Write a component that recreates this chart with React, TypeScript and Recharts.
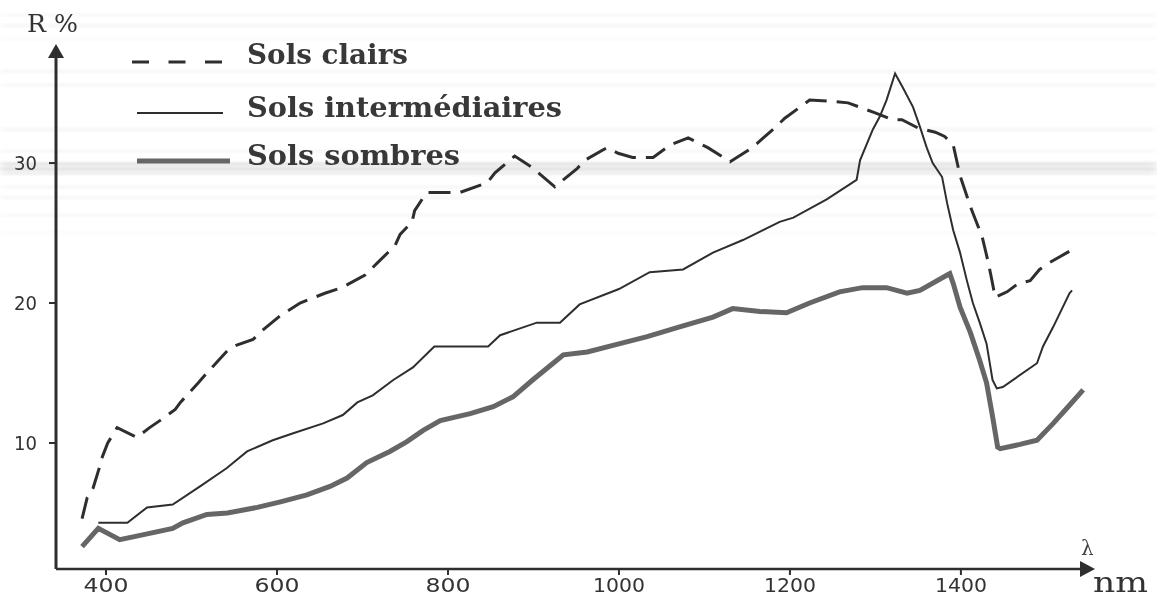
import React from 'react';
import { LineChart, Line, XAxis, YAxis } from 'recharts';

// Réflectance spectrale (R %) en fonction de la longueur d'onde (nm)
const clairsNm = [372, 378, 385, 393, 395, 402, 413, 436, 451, 463, 481, 487, 508, 518, 542, 553, 572, 584, 604, 627, 656, 676, 703, 718, 738, 744, 758, 761, 775, 800, 814, 846, 855, 878, 898, 925, 951, 960, 986, 999, 1016, 1040, 1060, 1081, 1104, 1130, 1156, 1182, 1194, 1223, 1250, 1268, 1299, 1320, 1331, 1350, 1370, 1381, 1391, 1399, 1411, 1425, 1432, 1437, 1440, 1454, 1467, 1481, 1492, 1504, 1530];
const clairsR = [4.6, 6.1, 6.8, 8.4, 8.9, 10.0, 11.1, 10.4, 11.1, 11.6, 12.4, 12.9, 14.3, 15.0, 16.6, 17.0, 17.4, 18.1, 19.1, 20.0, 20.7, 21.1, 22.0, 22.9, 24.1, 24.9, 25.8, 26.6, 27.9, 27.9, 27.9, 28.6, 29.3, 30.5, 29.7, 28.3, 29.6, 30.2, 31.1, 30.7, 30.4, 30.4, 31.3, 31.8, 31.1, 30.1, 31.1, 32.5, 33.2, 34.5, 34.4, 34.3, 33.6, 33.1, 33.1, 32.5, 32.2, 31.9, 31.3, 29.1, 26.9, 24.7, 22.9, 21.4, 20.4, 20.8, 21.4, 21.6, 22.4, 22.9, 23.8];

const interNm = [391, 425, 448, 478, 510, 541, 565, 595, 619, 654, 677, 694, 712, 736, 759, 784, 847, 861, 904, 931, 954, 1000, 1036, 1075, 1110, 1145, 1165, 1188, 1204, 1243, 1278, 1282, 1297, 1305, 1313, 1323, 1332, 1344, 1352, 1360, 1367, 1378, 1384, 1391, 1399, 1407, 1414, 1422, 1430, 1437, 1442, 1449, 1489, 1496, 1508, 1527, 1530];
const interR = [4.3, 4.3, 5.4, 5.6, 6.9, 8.2, 9.4, 10.2, 10.7, 11.4, 12.0, 12.9, 13.4, 14.5, 15.4, 16.9, 16.9, 17.7, 18.6, 18.6, 19.9, 21.0, 22.2, 22.4, 23.6, 24.5, 25.1, 25.8, 26.1, 27.4, 28.8, 30.2, 32.4, 33.3, 34.5, 36.4, 35.4, 34.0, 32.6, 31.1, 30.0, 29.0, 27.1, 25.2, 23.6, 21.6, 20.0, 18.6, 17.1, 14.5, 13.9, 14.0, 15.7, 16.9, 18.3, 20.7, 20.9];

const sombresNm = [372, 391, 416, 440, 478, 490, 518, 542, 577, 604, 635, 662, 682, 705, 732, 752, 771, 791, 826, 853, 876, 899, 923, 935, 963, 1001, 1033, 1071, 1110, 1133, 1165, 1196, 1223, 1258, 1285, 1313, 1337, 1352, 1384, 1387, 1391, 1399, 1411, 1422, 1430, 1437, 1443, 1446, 1469, 1489, 1508, 1527, 1543];
const sombresR = [2.6, 3.9, 3.1, 3.4, 3.9, 4.3, 4.9, 5.0, 5.4, 5.8, 6.3, 6.9, 7.5, 8.6, 9.4, 10.1, 10.9, 11.6, 12.1, 12.6, 13.3, 14.5, 15.7, 16.3, 16.5, 17.1, 17.6, 18.3, 19.0, 19.6, 19.4, 19.3, 20.0, 20.8, 21.1, 21.1, 20.7, 20.9, 22.0, 22.1, 21.4, 19.7, 17.9, 15.9, 14.3, 11.9, 9.7, 9.6, 9.9, 10.2, 11.4, 12.7, 13.8];

const xTicks = [400, 600, 800, 1000, 1200, 1400];
const yTicks = [10, 20, 30];
const legendLabels = ['Sols clairs', 'Sols intermédiaires', 'Sols sombres'];

const toPoints = (nm: number[], r: number[]) => nm.map((w, i) => ({ nm: w, r: r[i] }));
const clairs = toPoints(clairsNm, clairsR);
const inter = toPoints(interNm, interR);
const sombres = toPoints(sombresNm, sombresR);

const INK = '#2e2e2e';
const GREY = '#666666';
const tickFont = '"DejaVu Sans", sans-serif';
const serifFont = '"DejaVu Serif", serif';

const XTick = (props: any) => {
  const { x, y, payload } = props;
  const label = String(payload.value);
  return (
    <text
      x={x}
      y={y + 15}
      textAnchor="middle"
      fontFamily={tickFont}
      fontSize={20}
      fill="#333"
      textLength={label.length > 3 ? 52 : 45}
      lengthAdjust="spacingAndGlyphs"
    >
      {label}
    </text>
  );
};

const YTick = (props: any) => {
  const { x, y, payload } = props;
  return (
    <text
      x={x - 10}
      y={y + 7}
      textAnchor="end"
      fontFamily={tickFont}
      fontSize={19}
      fill="#333"
      textLength={23}
      lengthAdjust="spacingAndGlyphs"
    >
      {payload.value}
    </text>
  );
};

// faint horizontal streaks of the photocopied page: [y, height, opacity]
const streaks: [number, number, number][] = [
  [14, 2, 0.05], [24, 3, 0.05], [38, 2, 0.04], [70, 3, 0.05], [84, 2, 0.06],
  [128, 3, 0.05], [150, 2, 0.06], [162, 4, 0.14], [167, 4, 0.17], [172, 3, 0.1],
  [186, 2, 0.06], [196, 3, 0.05], [214, 2, 0.05], [232, 2, 0.04],
];

export default function App() {
  return (
    <div style={{ position: 'absolute', left: 0, top: 0, width: 1157, height: 600, background: '#fff' }}>
      <svg width={1157} height={600} style={{ position: 'absolute', left: 0, top: 0 }}>
        <defs>
          <filter id="soft" x="-5%" y="-50%" width="110%" height="200%">
            <feGaussianBlur stdDeviation="4 1.2" />
          </filter>
        </defs>
        <g filter="url(#soft)">
          {streaks.map(([y, h, o], i) => (
            <rect key={i} x={0} y={y} width={1157} height={h} fill="#555" opacity={o} />
          ))}
        </g>
      </svg>
      <div style={{ position: 'absolute', left: 0, top: 0 }}>
        <LineChart width={1157} height={600} margin={{ top: 47, right: 67, left: 0, bottom: 0 }}>
          <XAxis
            type="number"
            dataKey="nm"
            domain={[341.5, 1551]}
            ticks={xTicks}
            allowDataOverflow
            height={31}
            axisLine={{ stroke: INK, strokeWidth: 2.5 }}
            tickLine={{ stroke: INK, strokeWidth: 2 }}
            tickSize={6}
            tick={XTick}
          />
          <YAxis
            type="number"
            dataKey="r"
            domain={[1.0, 38.29]}
            ticks={yTicks}
            allowDataOverflow
            width={56}
            axisLine={{ stroke: INK, strokeWidth: 3 }}
            tickLine={{ stroke: INK, strokeWidth: 2 }}
            tickSize={7}
            tick={YTick}
          />
          <Line
            data={clairs}
            dataKey="r"
            type="linear"
            stroke={INK}
            strokeWidth={3}
            strokeDasharray="22 10"
            dot={false}
            isAnimationActive={false}
          />
          <Line
            data={inter}
            dataKey="r"
            type="linear"
            stroke={INK}
            strokeWidth={2}
            dot={false}
            isAnimationActive={false}
          />
          <Line
            data={sombres}
            dataKey="r"
            type="linear"
            stroke={GREY}
            strokeWidth={5}
            dot={false}
            isAnimationActive={false}
          />
        </LineChart>
      </div>

      <svg
        width={1157}
        height={600}
        style={{ position: 'absolute', left: 0, top: 0, pointerEvents: 'none' }}
      >
        {/* arrow heads on the axes */}
        <polygon points="56,44 48,58 64,58" fill={INK} />
        <polygon points="1095,569 1080,561 1080,577" fill={INK} />
        <text x={1081} y={555} fontFamily={serifFont} fontSize={20} fill="#444">λ</text>
        <text x={1093} y={592} fontFamily={serifFont} fontSize={28} fill="#333" textLength={55} lengthAdjust="spacingAndGlyphs">nm</text>
        <text x={27} y={32} fontFamily={serifFont} fontSize={25} fill="#333" textLength={51} lengthAdjust="spacingAndGlyphs">R %</text>

        {/* legend */}
        <line x1={132} y1={62} x2={222} y2={62} stroke={INK} strokeWidth={3} strokeDasharray="17 19.5" />
        <line x1={137} y1={113} x2={223} y2={113} stroke={INK} strokeWidth={2} />
        <line x1={137} y1={161} x2={230} y2={161} stroke={GREY} strokeWidth={5} />
        <text x={247} y={64} fontFamily={serifFont} fontWeight="bold" fontSize={27} fill="#383838" textLength={161} lengthAdjust="spacingAndGlyphs">{legendLabels[0]}</text>
        <text x={247} y={117} fontFamily={serifFont} fontWeight="bold" fontSize={27} fill="#383838" textLength={315} lengthAdjust="spacingAndGlyphs">{legendLabels[1]}</text>
        <text x={247} y={165} fontFamily={serifFont} fontWeight="bold" fontSize={27} fill="#383838" textLength={213} lengthAdjust="spacingAndGlyphs">{legendLabels[2]}</text>
      </svg>
    </div>
  );
}
